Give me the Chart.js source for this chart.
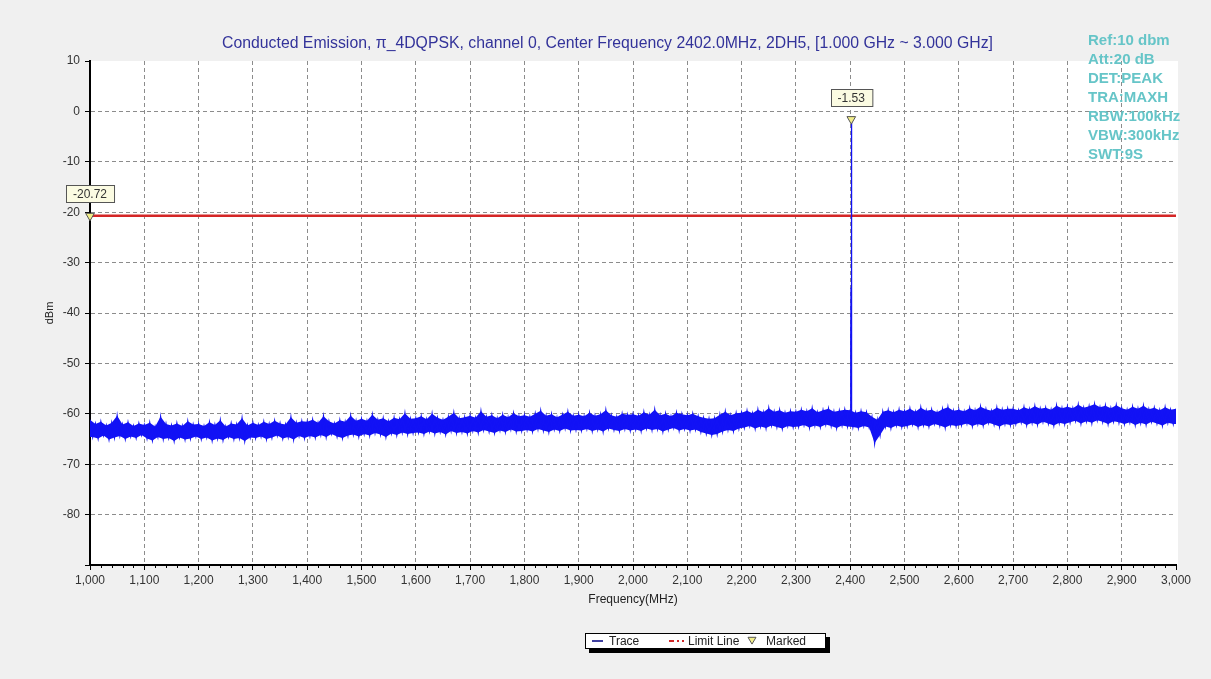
<!DOCTYPE html>
<html>
<head>
<meta charset="utf-8">
<script src="https://cdn.jsdelivr.net/npm/chart.js@4"></script>
<style>
html,body{margin:0;padding:0;background:#f0f0f0;}
#c{display:block;}
</style>
</head>
<body>
<canvas id="c" width="1211" height="679"></canvas>
<script>
// ---------------- data ----------------
const titleText = "Conducted Emission, \u03c0_4DQPSK, channel 0, Center Frequency 2402.0MHz, 2DH5, [1.000 GHz ~ 3.000 GHz]";
const infoLines = ["Ref:10 dbm", "Att:20 dB", "DET:PEAK", "TRA:MAXH", "RBW:100kHz", "VBW:300kHz", "SWT:9S"];
const xTitle = "Frequency(MHz)";
const yTitle = "dBm";

const freqMin = 1000, freqMax = 3000, freqStep = 100;
const levelMin = -90, levelMax = 10, levelStep = 10;

// upper edge of the noise trace, sampled at 1000, 1010, ... 2990 MHz
const hiLevels = [
 -61.2,-62.0,-61.6,-62.3,-61.8,-60.4,-62.1,-61.7,-62.4,-61.9,
 -62.2,-61.8,-62.5,-60.6,-62.0,-62.3,-61.9,-62.4,-61.5,-62.1,
 -62.0,-62.4,-61.7,-62.2,-61.3,-62.5,-61.9,-62.1,-60.9,-62.3,
 -61.8,-62.2,-61.6,-62.0,-61.4,-61.9,-62.1,-60.7,-61.8,-61.5,
 -61.6,-61.2,-61.8,-60.5,-61.5,-61.9,-61.3,-61.6,-60.4,-61.4,
 -61.0,-61.4,-60.2,-61.2,-60.9,-61.5,-60.8,-61.1,-59.9,-61.0,
 -60.9,-60.5,-61.1,-60.0,-60.8,-61.2,-60.6,-59.8,-60.9,-60.7,
 -60.4,-60.8,-59.5,-60.6,-60.3,-60.9,-60.2,-60.7,-59.9,-60.5,
 -60.3,-60.6,-60.0,-59.4,-60.4,-60.1,-60.7,-60.2,-59.6,-60.4,
 -60.2,-60.5,-59.8,-60.4,-60.1,-59.3,-60.3,-60.6,-60.0,-60.2,
 -60.1,-60.4,-59.7,-60.2,-59.2,-60.3,-60.0,-60.5,-59.8,-60.1,
 -60.3,-60.0,-60.5,-60.8,-61.0,-60.9,-60.2,-59.6,-60.3,-59.9,
 -59.8,-59.4,-59.9,-59.2,-59.7,-58.9,-59.6,-59.3,-59.8,-59.5,
 -59.6,-59.2,-59.5,-58.9,-59.7,-59.3,-59.0,-59.6,-59.4,-59.2,
 -59.3,-59.8,-59.5,-59.7,-60.6,-61.2,-59.6,-59.3,-59.7,-59.2,
 -59.5,-59.0,-59.6,-58.8,-59.4,-59.2,-59.7,-59.1,-58.7,-59.4,
 -59.2,-59.5,-58.9,-59.3,-58.6,-59.1,-59.4,-58.8,-59.2,-59.0,
 -59.0,-59.3,-58.7,-59.1,-58.5,-59.0,-58.8,-59.2,-58.4,-58.9,
 -58.6,-58.9,-58.2,-58.8,-58.5,-58.1,-58.7,-58.4,-58.9,-58.3,
 -58.9,-59.2,-58.6,-59.0,-58.4,-59.1,-58.8,-59.3,-58.7,-59.2
];
// lower edge of the noise trace, sampled at 1005, 1015, ... 2995 MHz
const loLevels = [
 -64.6,-64.9,-64.3,-65.1,-64.7,-64.4,-65.0,-64.5,-64.8,-64.2,
 -64.9,-65.3,-64.6,-65.0,-64.8,-65.4,-64.7,-65.1,-64.9,-64.5,
 -65.0,-64.7,-65.3,-64.9,-65.2,-64.6,-65.0,-64.8,-65.4,-64.7,
 -64.8,-64.5,-65.0,-64.7,-64.3,-64.9,-64.6,-65.1,-64.4,-64.8,
 -64.4,-64.7,-64.2,-64.6,-64.0,-64.5,-64.8,-64.3,-64.1,-64.5,
 -64.0,-64.3,-63.8,-64.1,-64.6,-63.9,-64.2,-63.7,-64.0,-63.8,
 -63.7,-64.0,-63.5,-63.9,-63.6,-64.1,-63.4,-63.8,-63.6,-63.9,
 -63.4,-63.7,-63.2,-63.5,-63.8,-63.3,-63.6,-63.1,-63.5,-63.4,
 -63.2,-63.5,-63.0,-63.3,-63.6,-63.1,-63.4,-62.9,-63.3,-63.2,
 -63.3,-63.0,-63.4,-63.1,-63.5,-62.9,-63.2,-63.4,-63.0,-63.3,
 -63.1,-63.4,-62.9,-63.2,-63.0,-63.5,-63.1,-62.8,-63.3,-63.0,
 -63.3,-63.1,-63.6,-63.9,-64.2,-64.0,-63.5,-63.2,-63.4,-62.9,
 -62.7,-62.4,-62.9,-62.5,-62.8,-62.3,-62.6,-62.9,-62.4,-62.6,
 -62.5,-62.2,-62.7,-62.3,-62.6,-62.1,-62.4,-62.8,-62.3,-62.5,
 -62.6,-62.8,-62.4,-62.7,-65.8,-64.2,-62.5,-62.8,-62.3,-62.6,
 -62.4,-62.1,-62.6,-62.2,-62.5,-62.0,-62.3,-62.7,-62.2,-62.4,
 -62.2,-61.9,-62.4,-62.0,-62.3,-61.8,-62.1,-62.5,-62.0,-62.2,
 -62.0,-61.7,-62.2,-61.8,-62.1,-61.6,-61.9,-62.3,-61.8,-62.0,
 -61.7,-61.4,-61.9,-61.5,-61.8,-61.3,-61.6,-62.0,-61.5,-61.7,
 -62.0,-61.7,-62.2,-61.8,-62.1,-61.6,-61.9,-62.3,-61.8,-62.0
];
const endLevel = -59.0; // trace value at 3000 MHz

// carrier of channel 0
const carrierFreqs  = [2401, 2401.5, 2402, 2402.5, 2403];
const carrierLevels = [-45, -35, -1.53, -47, -60.5];

// limit line
const limitFreqs  = [1000, 3000];
const limitLevels = [-20.72, -20.72];

// markers
const markerFreqs  = [1000, 2402];
const markerLevels = [-20.72, -1.53];
const markerLabels = ["-20.72", "-1.53"];

const legendItems = ["Trace", "Limit Line", "Marked"];

// ---------------- build datasets ----------------
const hiPts = hiLevels.map((v, i) => ({x: 1000 + i * 10, y: v}));
const loPts = loLevels.map((v, i) => ({x: 1005 + i * 10, y: v}));
const tracePts = hiPts.concat(loPts);
tracePts.push({x: 3000, y: endLevel});
carrierFreqs.forEach((f, i) => tracePts.push({x: f, y: carrierLevels[i]}));
tracePts.sort((a, b) => a.x - b.x);
const bandHi = hiPts.concat([{x: 3000, y: endLevel}]);
const bandLo = [{x: 1000, y: loLevels[0]}].concat(loPts, [{x: 3000, y: loLevels[loLevels.length - 1]}]);

const limitPts = limitFreqs.map((f, i) => ({x: f, y: limitLevels[i]}));
const markerPts = markerFreqs.map((f, i) => ({x: f, y: markerLevels[i]}));

const FONT = "'Liberation Sans', Arial, sans-serif";
const TRACE = '#1212f5';

function drawTri(ctx, x, y, r) {
  ctx.beginPath();
  ctx.moveTo(x - r, y - r * 0.8);
  ctx.lineTo(x + r, y - r * 0.8);
  ctx.lineTo(x, y + r * 0.9);
  ctx.closePath();
  ctx.fillStyle = '#f2ee8a';
  ctx.fill();
  ctx.strokeStyle = '#555';
  ctx.lineWidth = 1;
  ctx.stroke();
}

const bgPlugin = {
  id: 'bg',
  beforeDraw(chart) {
    const {ctx, chartArea: a} = chart;
    ctx.save();
    ctx.fillStyle = '#f0f0f0';
    ctx.fillRect(0, 0, chart.width, chart.height);
    ctx.fillStyle = '#ffffff';
    ctx.fillRect(a.left, a.top, a.right - a.left + 2, a.bottom - a.top);
    ctx.restore();
  }
};

const overlayPlugin = {
  id: 'overlay',
  afterDraw(chart) {
    const {ctx, chartArea: a, scales} = chart;
    const xs = scales.x;
    ctx.save();
    // title
    ctx.fillStyle = '#33339a';
    ctx.font = '14px ' + FONT;
    const w = ctx.measureText(titleText).width;
    const tsize = 14 * 771 / w;
    ctx.font = tsize.toFixed(2) + 'px ' + FONT;
    ctx.textAlign = 'center';
    ctx.textBaseline = 'middle';
    ctx.fillText(titleText, 607.5, 44);

    // info text
    ctx.fillStyle = '#66c5c8';
    ctx.font = 'bold 15px ' + FONT;
    ctx.textAlign = 'left';
    infoLines.forEach((t, i) => ctx.fillText(t, 1088, 41 + i * 19));

    // axis titles
    ctx.fillStyle = '#222';
    ctx.font = '12px ' + FONT;
    ctx.textAlign = 'center';
    ctx.fillText(xTitle, (a.left + a.right) / 2, 600);
    ctx.save();
    ctx.translate(50, (a.top + a.bottom) / 2);
    ctx.rotate(-Math.PI / 2);
    ctx.font = '11px ' + FONT;
    ctx.fillText(yTitle, 0, 0);
    ctx.restore();

    // minor x ticks every 20 MHz
    ctx.strokeStyle = '#000';
    ctx.lineWidth = 1;
    ctx.beginPath();
    for (let f = freqMin; f <= freqMax; f += 20) {
      if (f % 100 === 0) continue;
      const px = Math.round(xs.getPixelForValue(f)) + 0.5;
      ctx.moveTo(px, a.bottom);
      ctx.lineTo(px, a.bottom + 3);
    }
    ctx.stroke();

    // marker label boxes
    const meta = chart.getDatasetMeta(2);
    ctx.font = '12px ' + FONT;
    meta.data.forEach((pt, i) => {
      const label = markerLabels[i];
      const tw = ctx.measureText(label).width;
      const bw = tw + 14, bh = 17;
      const bx = Math.round(pt.x - bw / 2) + 0.5;
      const by = Math.round(pt.y - 13.5 - bh) + 0.5;
      ctx.fillStyle = '#fbfbe2';
      ctx.fillRect(bx, by, bw, bh);
      ctx.strokeStyle = '#555';
      ctx.lineWidth = 1;
      ctx.strokeRect(bx, by, bw, bh);
      ctx.fillStyle = '#333';
      ctx.textAlign = 'center';
      ctx.textBaseline = 'middle';
      ctx.fillText(label, pt.x, by + bh / 2 + 0.5);
    });

    // legend
    const lx = 585, ly = 633, lw = 241, lh = 16;
    ctx.fillStyle = '#000';
    ctx.fillRect(lx + 4, ly + 4, lw, lh);
    ctx.fillStyle = '#fff';
    ctx.fillRect(lx, ly, lw, lh);
    ctx.strokeStyle = '#000';
    ctx.lineWidth = 1;
    ctx.strokeRect(lx + 0.5, ly + 0.5, lw - 1, lh - 1);
    const cy = ly + lh / 2;
    ctx.strokeStyle = '#000080';
    ctx.lineWidth = 1.5;
    ctx.beginPath(); ctx.moveTo(592, cy); ctx.lineTo(603, cy); ctx.stroke();
    ctx.strokeStyle = '#d02828';
    ctx.lineWidth = 2;
    ctx.setLineDash([5, 3, 2, 3]);
    ctx.beginPath(); ctx.moveTo(669, cy); ctx.lineTo(684, cy); ctx.stroke();
    ctx.setLineDash([]);
    drawTri(ctx, 752, cy - 0.5, 4);
    ctx.fillStyle = '#222';
    ctx.font = '12px ' + FONT;
    ctx.textAlign = 'left';
    ctx.textBaseline = 'middle';
    ctx.fillText(legendItems[0], 609, cy + 0.5);
    ctx.fillText(legendItems[1], 688, cy + 0.5);
    ctx.fillText(legendItems[2], 766, cy + 0.5);
    ctx.restore();
  }
};

new Chart(document.getElementById('c'), {
  type: 'scatter',
  data: {
    datasets: [
      {
        label: 'Limit Line', data: limitPts, showLine: true,
        borderColor: '#d42626', borderWidth: 2.5, pointRadius: 0, order: 3
      },
      {
        label: 'Trace', data: tracePts, showLine: true,
        borderColor: TRACE, borderWidth: 1.3, pointRadius: 0, tension: 0, order: 2
      },
      {
        label: 'Marked', data: markerPts, showLine: false,
        pointStyle: 'triangle', rotation: 180, pointRadius: 5,
        backgroundColor: '#f2ee8a', borderColor: '#555', borderWidth: 1,
        clip: false, order: 1
      },
      {
        label: 'band-hi', data: bandHi, showLine: true,
        borderColor: 'rgba(0,0,0,0)', borderWidth: 1, pointRadius: 0,
        backgroundColor: TRACE, fill: '+1', order: 4
      },
      {
        label: 'band-lo', data: bandLo, showLine: true,
        borderColor: 'rgba(0,0,0,0)', borderWidth: 1, pointRadius: 0,
        fill: false, order: 5
      }
    ]
  },
  options: {
    responsive: false,
    animation: false,
    devicePixelRatio: 1,
    layout: {padding: {left: 0, right: 35, top: 61, bottom: 0}},
    plugins: {legend: {display: false}, tooltip: {enabled: false}, title: {display: false}, filler: {propagate: false}},
    scales: {
      x: {
        type: 'linear', min: freqMin, max: freqMax,
        afterFit(s) { s.height = 114; },
        ticks: {
          stepSize: freqStep, autoSkip: false, maxRotation: 0, padding: 3,
          color: '#333', font: {size: 12, family: FONT},
          callback: v => v.toLocaleString('en-US')
        },
        grid: {
          color: c => (c.tick && (c.tick.value === freqMin || c.tick.value === freqMax)) ? 'rgba(0,0,0,0)' : '#8c8c8c',
          lineWidth: 1, tickLength: 5, tickColor: '#000', drawTicks: true
        },
        border: {color: '#000', width: 2, dash: [4, 3]}
      },
      y: {
        min: levelMin, max: levelMax,
        afterFit(s) { s.width = 90; },
        ticks: {
          stepSize: levelStep, padding: 5,
          color: '#333', font: {size: 12, family: FONT},
          callback: v => v === levelMin ? '' : String(v)
        },
        grid: {
          color: c => (c.tick && (c.tick.value === levelMax || c.tick.value === levelMin)) ? 'rgba(0,0,0,0)' : '#8c8c8c',
          lineWidth: 1, tickLength: 5, tickColor: '#000', drawTicks: true
        },
        border: {color: '#000', width: 2, dash: [4, 3]}
      }
    }
  },
  plugins: [bgPlugin, overlayPlugin]
});
</script>
</body>
</html>
